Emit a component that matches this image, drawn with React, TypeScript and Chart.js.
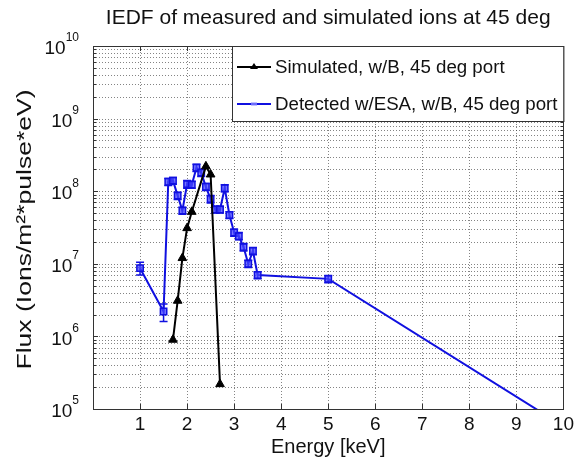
import React, { useEffect, useRef } from "react";
import { Chart, registerables } from "chart.js";

Chart.register(...registerables);

const titleText = "IEDF of measured and simulated ions at 45 deg";
const xTitle = "Energy [keV]";
const yTitle = "Flux (Ions/m²*pulse*eV)";

const xTicks = [1, 2, 3, 4, 5, 6, 7, 8, 9, 10];
const yExponents = [5, 6, 7, 8, 9, 10];

const simLabel = "Simulated, w/B, 45 deg port";
const simEnergy = [1.7, 1.8, 1.9, 2.0, 2.1, 2.4, 2.5, 2.7];
const simFlux = [9.0e5, 3.1e6, 1.2e7, 3.1e7, 5.2e7, 2.2e8, 1.7e8, 2.2e5];

const detLabel = "Detected w/ESA, w/B, 45 deg port";
const detEnergy = [1.0, 1.5, 1.6, 1.7, 1.8, 1.9, 2.0, 2.1, 2.2, 2.3, 2.4, 2.5, 2.6, 2.7, 2.8, 2.9, 3.0, 3.1, 3.2, 3.3, 3.4, 3.5, 5.0, 10.0];
const detFlux = [8.7e6, 2.2e6, 1.35e8, 1.4e8, 8.7e7, 5.4e7, 1.25e8, 1.23e8, 2.1e8, 1.8e8, 1.15e8, 7.8e7, 5.6e7, 5.6e7, 1.1e8, 4.7e7, 2.7e7, 2.4e7, 1.7e7, 1.0e7, 1.5e7, 7.0e6, 6.2e6, 5.8e4];
const detLow = [7.0e6, 1.6e6, 1.2e8, 1.25e8, 7.7e7, 4.8e7, 1.1e8, 1.1e8, 1.87e8, 1.6e8, 1.02e8, 6.9e7, 5.0e7, 5.0e7, 9.8e7, 4.2e7, 2.4e7, 2.15e7, 1.5e7, 8.9e6, 1.33e7, 6.2e6, 5.5e6, 5.8e4];
const detHigh = [1.05e7, 2.8e6, 1.5e8, 1.55e8, 9.7e7, 6.0e7, 1.4e8, 1.37e8, 2.35e8, 2.0e8, 1.28e8, 8.7e7, 6.2e7, 6.2e7, 1.23e8, 5.2e7, 3.0e7, 2.7e7, 1.9e7, 1.12e7, 1.68e7, 7.8e6, 6.9e6, 5.8e4];

const FONT = '"Liberation Sans", Arial, sans-serif';
const BLUE = "#1010e0";

const matlabPlugin = {
  id: "matlab",
  beforeDatasetsDraw(chart: any) {
    const { ctx, chartArea: a, scales } = chart;
    const x = scales.x, y = scales.y;
    ctx.save();
    ctx.strokeStyle = "rgba(50,50,50,0.6)";
    ctx.lineWidth = 1;
    ctx.setLineDash([1, 2]);
    for (const v of xTicks.slice(0, -1)) {
      const px = Math.round(x.getPixelForValue(v)) + 0.5;
      ctx.beginPath(); ctx.moveTo(px, a.top); ctx.lineTo(px, a.bottom); ctx.stroke();
    }
    for (let e = yExponents[0]; e < yExponents[yExponents.length - 1]; e++) {
      for (let m = 1; m <= 9; m++) {
        if (e === yExponents[0] && m === 1) continue;
        const py = Math.round(y.getPixelForValue(m * Math.pow(10, e))) + 0.5;
        ctx.beginPath(); ctx.moveTo(a.left, py); ctx.lineTo(a.right, py); ctx.stroke();
      }
    }
    ctx.setLineDash([]);
    ctx.strokeStyle = BLUE;
    ctx.lineWidth = 1.5;
    for (let i = 0; i < detEnergy.length; i++) {
      if (detLow[i] === detHigh[i]) continue;
      const px = x.getPixelForValue(detEnergy[i]);
      const p1 = y.getPixelForValue(detLow[i]);
      const p2 = y.getPixelForValue(detHigh[i]);
      ctx.beginPath();
      ctx.moveTo(px, p1); ctx.lineTo(px, p2);
      ctx.moveTo(px - 4, p1); ctx.lineTo(px + 4, p1);
      ctx.moveTo(px - 4, p2); ctx.lineTo(px + 4, p2);
      ctx.stroke();
    }
    ctx.restore();
  },
  afterDraw(chart: any) {
    const { ctx, chartArea: a, scales } = chart;
    const x = scales.x, y = scales.y;
    ctx.save();
    ctx.strokeStyle = "#333";
    ctx.lineWidth = 1;
    ctx.strokeRect(Math.round(a.left) + 0.5, Math.round(a.top) + 0.5, Math.round(a.right - a.left), Math.round(a.bottom - a.top));
    ctx.beginPath();
    for (const v of xTicks) {
      const px = Math.round(x.getPixelForValue(v)) + 0.5;
      ctx.moveTo(px, a.bottom); ctx.lineTo(px, a.bottom - 5);
      ctx.moveTo(px, a.top); ctx.lineTo(px, a.top + 5);
    }
    for (let e = yExponents[0]; e <= yExponents[yExponents.length - 1]; e++) {
      for (let m = 1; m <= 9; m++) {
        if (e === yExponents[yExponents.length - 1] && m > 1) break;
        const py = Math.round(y.getPixelForValue(m * Math.pow(10, e))) + 0.5;
        const len = m === 1 ? 5 : 3;
        ctx.moveTo(a.left, py); ctx.lineTo(a.left + len, py);
        ctx.moveTo(a.right, py); ctx.lineTo(a.right - len, py);
      }
    }
    ctx.stroke();
    // y tick labels with superscripts
    ctx.fillStyle = "#111";
    for (const e of yExponents) {
      const py = y.getPixelForValue(Math.pow(10, e));
      const exp = String(e);
      ctx.font = `12px ${FONT}`;
      const ew = ctx.measureText(exp).width;
      const right = a.left - 14;
      ctx.textAlign = "left";
      ctx.textBaseline = "middle";
      ctx.fillText(exp, right - ew, py - 8);
      ctx.font = `19px ${FONT}`;
      ctx.textAlign = "right";
      ctx.fillText("10", right - ew, py + 3);
    }
    // titles
    ctx.textAlign = "center";
    ctx.textBaseline = "middle";
    const cx = (a.left + a.right) / 2;
    ctx.font = `21px ${FONT}`;
    ctx.fillText(titleText, cx, 18);
    ctx.font = `20px ${FONT}`;
    ctx.fillText(xTitle, cx, 447);
    ctx.save();
    ctx.font = `21px ${FONT}`;
    ctx.translate(25, (a.top + a.bottom) / 2 + 2);
    ctx.rotate(-Math.PI / 2);
    const yw = ctx.measureText(yTitle).width;
    ctx.scale(280 / yw, 1);
    ctx.fillText(yTitle, 0, 0);
    ctx.restore();
    // legend
    const lx = 232, ly = a.top, lw = a.right - lx, lh = 75;
    ctx.fillStyle = "#fff";
    ctx.fillRect(lx, ly, lw, lh);
    ctx.strokeStyle = "#333";
    ctx.lineWidth = 1;
    ctx.strokeRect(lx + 0.5, ly + 0.5, lw, lh);
    const rows = [
      { label: simLabel, color: "#000", y: ly + 21, tri: true },
      { label: detLabel, color: BLUE, y: ly + 58, tri: false },
    ];
    for (const r of rows) {
      ctx.strokeStyle = r.color;
      ctx.lineWidth = 2;
      ctx.beginPath(); ctx.moveTo(lx + 5, r.y); ctx.lineTo(lx + 39, r.y); ctx.stroke();
      if (r.tri) {
        ctx.fillStyle = "#000";
        ctx.beginPath();
        ctx.moveTo(lx + 22, r.y - 4); ctx.lineTo(lx + 26, r.y + 2); ctx.lineTo(lx + 18, r.y + 2); ctx.closePath();
        ctx.fill();
      } else {
        ctx.fillStyle = "rgba(120,120,255,0.9)";
        ctx.fillRect(lx + 19, r.y - 1.5, 6, 3);
      }
      ctx.fillStyle = "#111";
      ctx.font = `18.7px ${FONT}`;
      ctx.textAlign = "left";
      ctx.textBaseline = "middle";
      ctx.fillText(r.label, lx + 43, r.y + 1);
    }
    ctx.restore();
  },
};

export default function App() {
  const ref = useRef<HTMLCanvasElement>(null);
  useEffect(() => {
    if (!ref.current) return;
    const chart = new Chart(ref.current, {
      type: "line",
      data: {
        datasets: [
          {
            label: simLabel,
            data: simEnergy.map((e, i) => ({ x: e, y: simFlux[i] })),
            borderColor: "#000",
            backgroundColor: "#000",
            borderWidth: 2,
            pointStyle: "triangle",
            pointRadius: 5,
            pointBorderWidth: 1,
            tension: 0,
          },
          {
            label: detLabel,
            data: detEnergy.map((e, i) => ({ x: e, y: detFlux[i] })),
            borderColor: BLUE,
            backgroundColor: "rgba(70,70,255,0.75)",
            borderWidth: 2,
            pointStyle: "rect",
            pointRadius: detEnergy.map((e) => (e > 5 ? 0 : 4.5)),
            pointBorderWidth: 1.5,
            tension: 0,
          },
        ],
      },
      options: {
        animation: false,
        responsive: false,
        events: [],
        layout: { padding: { top: 46, right: 13, left: 0, bottom: 0 } },
        plugins: { legend: { display: false }, title: { display: false }, tooltip: { enabled: false } },
        scales: {
          x: {
            type: "linear",
            min: 0,
            max: 10,
            afterBuildTicks: (s: any) => { s.ticks = [0, ...xTicks].map((v) => ({ value: v })); },
            afterFit: (s: any) => { s.height = 52; },
            ticks: {
              callback: (v: any) => (v === 0 ? "" : String(v)),
              font: { size: 19, family: FONT },
              color: "#111",
              padding: 4,
              maxRotation: 0,
              autoSkip: false,
            },
            grid: { display: false, drawTicks: false },
            border: { display: false },
          },
          y: {
            type: "logarithmic",
            min: Math.pow(10, yExponents[0]),
            max: Math.pow(10, yExponents[yExponents.length - 1]),
            afterFit: (s: any) => { s.width = 93; },
            ticks: { display: false },
            grid: { display: false, drawTicks: false },
            border: { display: false },
          },
        },
      },
      plugins: [matlabPlugin],
    } as any);
    return () => chart.destroy();
  }, []);
  return (
    <div style={{ position: "fixed", left: 0, top: 0, width: 578, height: 461, background: "#fff" }}>
      <canvas ref={ref} width={578} height={461} />
    </div>
  );
}
